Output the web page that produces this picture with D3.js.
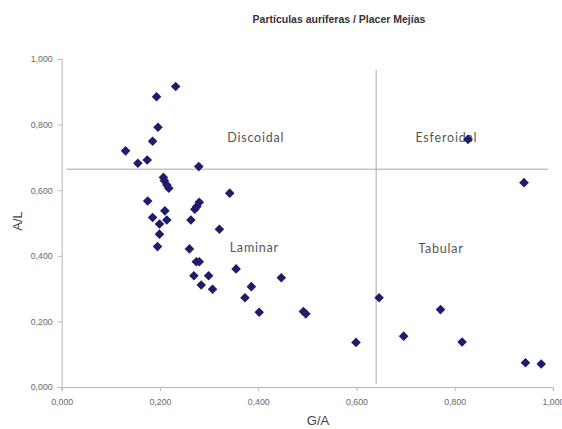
<!DOCTYPE html>
<html><head><meta charset="utf-8">
<script src="https://cdn.jsdelivr.net/npm/d3@7"></script>
<style>html,body{margin:0;padding:0;background:#fff;}svg{display:block;}</style>
</head><body>
<svg id="chart" width="562" height="429"></svg>
<script>
const title = "Partículas auríferas / Placer Mejías";
const xLabel = "G/A";
const yLabel = "A/L";
const xTicks = [0, 0.2, 0.4, 0.6, 0.8, 1.0];
const yTicks = [0, 0.2, 0.4, 0.6, 0.8, 1.0];
const gaValues = [0.232,0.193,0.196,0.185,0.130,0.155,0.174,0.279,0.207,0.209,0.214,0.218,0.342,0.175,0.280,0.275,0.271,0.210,0.185,0.214,0.199,0.263,0.199,0.321,0.195,0.260,0.274,0.280,0.269,0.299,0.355,0.284,0.307,0.386,0.447,0.373,0.402,0.492,0.497,0.646,0.771,0.599,0.696,0.815,0.944,0.976,0.827,0.941];
const alValues = [0.916,0.885,0.792,0.749,0.720,0.682,0.692,0.672,0.639,0.629,0.616,0.606,0.591,0.567,0.563,0.550,0.542,0.537,0.517,0.509,0.497,0.509,0.466,0.481,0.428,0.421,0.382,0.382,0.339,0.339,0.360,0.311,0.298,0.306,0.333,0.272,0.228,0.230,0.223,0.272,0.236,0.136,0.155,0.137,0.074,0.070,0.755,0.623];
const hLineAL = 0.664;
const vLineGA = 0.640;
const regionNames = ["Discoidal", "Esferoidal", "Laminar", "Tabular"];
const regionGA = [0.395, 0.783, 0.392, 0.772];
const regionAL = [0.747, 0.747, 0.411, 0.409];

const svg = d3.select("#chart");
const x = d3.scaleLinear().domain([0, 1]).range([61.7, 553]);
const y = d3.scaleLinear().domain([0, 1]).range([387, 59]);
const fmt = v => d3.format(".3f")(v).replace(".", ",");

svg.append("text").attr("x", 339).attr("y", 23).attr("text-anchor", "middle")
  .attr("font-family", "Liberation Sans, Arial, sans-serif").attr("font-weight", "bold")
  .attr("font-size", 10.5).attr("fill", "#333").text(title);

const xAxis = svg.append("g").attr("transform", `translate(0,${y(0)})`)
  .call(d3.axisBottom(x).tickValues(xTicks).tickFormat(fmt).tickSizeOuter(0).tickSize(4).tickPadding(8));
const yAxis = svg.append("g").attr("transform", `translate(${x(0)},0)`)
  .call(d3.axisLeft(y).tickValues(yTicks).tickFormat(fmt).tickSizeOuter(0).tickSize(4).tickPadding(5));
[xAxis, yAxis].forEach(g => {
  g.select(".domain").attr("stroke", "#b8b8b8");
  g.selectAll(".tick line").attr("stroke", "#b8b8b8");
  g.selectAll(".tick text").attr("fill", "#6a6a6a").attr("font-size", 8.8)
    .attr("font-family", "Liberation Sans, Arial, sans-serif");
});

// quadrant lines
svg.append("line").attr("x1", x(0.009)).attr("x2", x(0.99)).attr("y1", y(hLineAL)).attr("y2", y(hLineAL))
  .attr("stroke", "#a8a8a8").attr("stroke-width", 1);
svg.append("line").attr("x1", x(vLineGA)).attr("x2", x(vLineGA)).attr("y1", y(0.967)).attr("y2", y(0.009))
  .attr("stroke", "#a8a8a8").attr("stroke-width", 1);

// region labels
svg.selectAll("text.region").data(regionNames).join("text").attr("class", "region")
  .attr("x", (d, i) => x(regionGA[i])).attr("y", (d, i) => y(regionAL[i]))
  .attr("text-anchor", "middle").attr("font-family", "Lato, 'Open Sans', sans-serif")
  .attr("font-size", 12.5).attr("letter-spacing", 0.8).attr("fill", "#555").text(d => d);

// axis titles
svg.append("text").attr("x", 318).attr("y", 425).attr("text-anchor", "middle")
  .attr("font-family", "Liberation Sans, Arial, sans-serif").attr("font-size", 13).attr("fill", "#444").text(xLabel);
svg.append("text").attr("transform", "translate(22,221) rotate(-90)").attr("text-anchor", "middle")
  .attr("font-family", "Liberation Sans, Arial, sans-serif").attr("font-size", 13).attr("fill", "#444").text(yLabel);

// points
const sym = d3.symbol().type(d3.symbolSquare).size(46);
svg.append("g").selectAll("path").data(gaValues.map((g, i) => [g, alValues[i]])).join("path")
  .attr("d", sym)
  .attr("transform", d => `translate(${x(d[0])},${y(d[1])}) rotate(45)`)
  .attr("fill", "#1f1c6c");
</script>
</body></html>
